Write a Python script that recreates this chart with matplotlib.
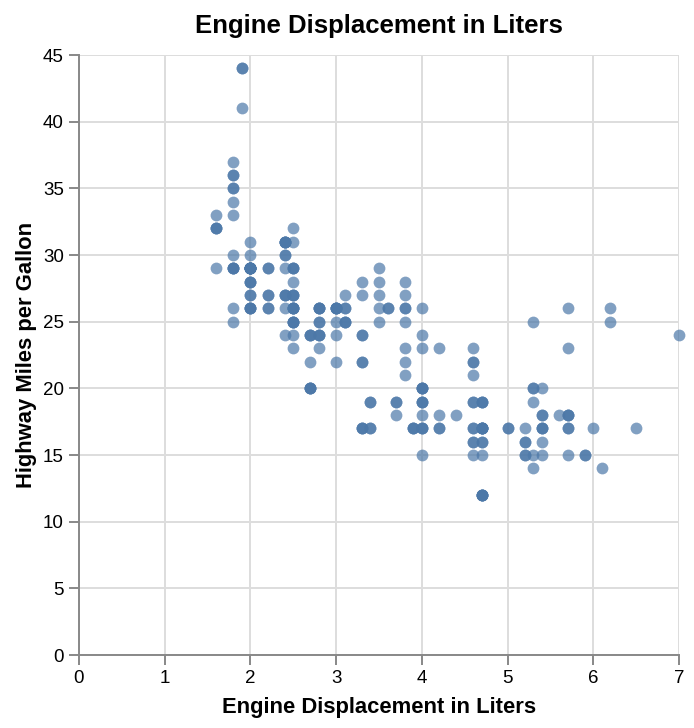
import matplotlib.pyplot as plt
import numpy as np

# mpg dataset: engine displacement (L) and highway mpg
displ = [
    1.8, 1.8, 2.0, 2.0, 2.8, 2.8, 3.1, 1.8, 1.8, 2.0, 2.0, 2.8, 2.8, 3.1, 3.1,
    2.8, 3.1, 4.2, 5.3, 5.3, 5.3, 5.7, 6.0, 5.7, 5.7, 6.2, 6.2, 7.0, 5.3, 5.3,
    5.7, 6.5, 2.4, 2.4, 3.1, 3.5, 3.6, 2.4, 3.0, 3.3, 3.3, 3.3, 3.3, 3.3, 3.8,
    3.8, 3.8, 4.0, 3.7, 3.7, 3.9, 3.9, 4.7, 4.7, 4.7, 5.2, 5.2, 3.9, 4.7, 4.7,
    4.7, 5.2, 5.7, 5.9, 4.7, 4.7, 4.7, 4.7, 4.7, 4.7, 5.2, 5.2, 5.7, 5.9, 4.6,
    5.4, 5.4, 4.0, 4.0, 4.0, 4.0, 4.6, 5.0, 4.2, 4.2, 4.6, 4.6, 4.6, 5.4, 5.4,
    3.8, 3.8, 4.0, 4.0, 4.6, 4.6, 4.6, 4.6, 5.4, 1.6, 1.6, 1.6, 1.6, 1.6, 1.8,
    1.8, 1.8, 2.0, 2.4, 2.4, 2.4, 2.4, 2.5, 2.5, 3.3, 2.0, 2.0, 2.0, 2.0, 2.7,
    2.7, 2.7, 3.0, 3.7, 4.0, 4.7, 4.7, 4.7, 5.7, 6.1, 4.0, 4.2, 4.4, 4.6, 5.4,
    5.4, 5.4, 4.0, 4.0, 4.6, 5.0, 2.4, 2.4, 2.5, 2.5, 3.5, 3.5, 3.0, 3.0, 3.5,
    3.3, 3.3, 4.0, 5.6, 3.1, 3.8, 3.8, 3.8, 5.3, 2.5, 2.5, 2.5, 2.5, 2.5, 2.5,
    2.2, 2.2, 2.5, 2.5, 2.5, 2.5, 2.5, 2.5, 2.7, 2.7, 3.4, 3.4, 4.0, 4.7, 2.2,
    2.2, 2.4, 2.4, 3.0, 3.0, 3.5, 2.2, 2.2, 2.4, 2.4, 3.0, 3.0, 3.3, 1.8, 1.8,
    1.8, 1.8, 1.8, 4.7, 5.7, 2.7, 2.7, 2.7, 3.4, 3.4, 4.0, 4.0, 2.0, 2.0, 2.0,
    2.0, 2.8, 1.9, 2.0, 2.0, 2.0, 2.0, 2.5, 2.5, 2.8, 2.8, 1.9, 1.9, 2.0, 2.0,
    2.5, 2.5, 1.8, 1.8, 2.0, 2.0, 2.8, 2.8, 3.6,
]
hwy = [
    29, 29, 31, 30, 26, 26, 27, 26, 25, 28, 27, 25, 25, 25, 25,
    24, 25, 23, 20, 15, 20, 17, 17, 26, 23, 26, 25, 24, 19, 14,
    15, 17, 27, 30, 26, 29, 26, 24, 24, 22, 22, 24, 24, 17, 22,
    21, 23, 23, 19, 18, 17, 17, 19, 19, 12, 17, 15, 17, 17, 12,
    17, 16, 18, 15, 16, 12, 17, 17, 16, 12, 15, 16, 17, 15, 17,
    17, 18, 17, 19, 17, 19, 19, 17, 17, 17, 16, 16, 17, 15, 17,
    26, 25, 26, 24, 21, 22, 23, 22, 20, 33, 32, 32, 29, 32, 34,
    36, 36, 29, 26, 27, 30, 31, 26, 26, 28, 26, 29, 28, 27, 24,
    24, 24, 22, 19, 20, 17, 12, 19, 18, 14, 15, 18, 18, 15, 17,
    16, 18, 17, 19, 19, 17, 29, 27, 31, 32, 27, 26, 26, 25, 25,
    17, 17, 20, 18, 26, 26, 27, 28, 25, 25, 24, 27, 25, 26, 23,
    26, 26, 26, 26, 25, 27, 25, 27, 20, 20, 19, 17, 20, 17, 29,
    27, 31, 31, 26, 26, 28, 27, 29, 31, 31, 26, 26, 27, 30, 33,
    35, 37, 35, 15, 18, 20, 20, 22, 17, 19, 18, 20, 29, 26, 29,
    29, 24, 44, 29, 26, 29, 29, 29, 29, 23, 24, 44, 41, 29, 26,
    28, 29, 29, 29, 28, 29, 26, 26, 26,
]

x_ticks = np.arange(0, 8, 1)
y_ticks = np.arange(0, 50, 5)

plt.rcParams['font.family'] = ['Liberation Sans', 'DejaVu Sans']

fig = plt.figure(figsize=(6.94, 7.28), dpi=100)
ax = fig.add_axes([79 / 694, (728 - 655) / 728, 600 / 694, 600 / 728])

ax.scatter(displ, hwy, s=72, color="#4c78a8", alpha=0.7, linewidths=0,
           clip_on=False, zorder=3)

ax.set_xlim(0, 7)
ax.set_ylim(0, 45)
ax.set_xticks(x_ticks)
ax.set_yticks(y_ticks)
ax.grid(True, color="#dddddd", linewidth=1.4)
ax.set_axisbelow(True)

for side in ["top", "right"]:
    ax.spines[side].set_visible(False)
for side in ["left", "bottom"]:
    ax.spines[side].set_color("#888888")
    ax.spines[side].set_linewidth(1.4)
ax.tick_params(colors="#888888", length=7.5, width=1.4, labelcolor="black",
               labelsize=13.5, pad=3.5)

ax.set_xlabel("Engine Displacement in Liters", fontsize=15.8, fontweight="bold",
              labelpad=7)
ax.set_ylabel("Highway Miles per Gallon", fontsize=15.8, fontweight="bold",
              labelpad=4)
ax.set_title("Engine Displacement in Liters", fontsize=18.5, fontweight="bold",
             pad=16)

fig.savefig("out.png", dpi=100)
